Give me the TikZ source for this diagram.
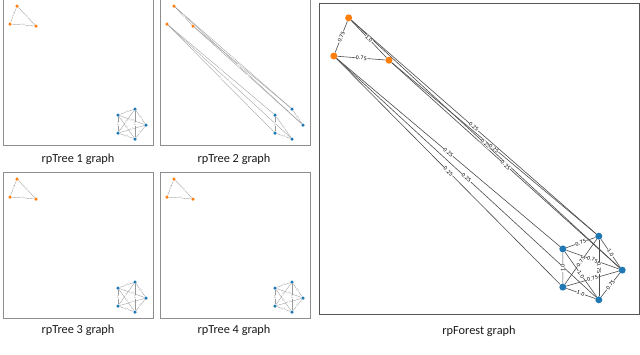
\documentclass[tikz,border=0pt]{standalone}
\usepackage{fontspec}
\setmainfont{Carlito}
\newfontfamily\lblfont{DejaVu Sans}
\usetikzlibrary{positioning}
\definecolor{RFOrange}{HTML}{FF7F0E}
\definecolor{RFBlue}{HTML}{1F77B4}
\definecolor{RFFrame}{HTML}{8E8E8E}
\definecolor{RFDark}{HTML}{555555}
% the eight points of one graph, prefix #1, dot size #2
\newcommand{\RFNodes}[2]{%
 \node[onode,minimum size=#2] (#1o1) at (14,7) {};
 \node[onode,minimum size=#2] (#1o2) at (7,25) {};
 \node[onode,minimum size=#2] (#1o3) at (33,27) {};
 \node[bnode,minimum size=#2] (#1b1) at (115,116) {};
 \node[bnode,minimum size=#2] (#1b2) at (132,110) {};
 \node[bnode,minimum size=#2] (#1b3) at (143,126) {};
 \node[bnode,minimum size=#2] (#1b4) at (132,140) {};
 \node[bnode,minimum size=#2] (#1b5) at (115,134) {};
}
\newcommand{\RFTree}[1]{%
 \foreach \u/\v in {o1/o2,o1/o3,o2/o3,b1/b2,b1/b3,b1/b4,b1/b5,b2/b3,b2/b4,b2/b5,b3/b4,b3/b5,b4/b5}
  \draw[gedge] (#1\u) -- (#1\v);
 \foreach \u/\v in {o1/o2,o1/o3,o2/o3,b1/b2,b1/b3,b1/b4,b1/b5,b2/b3,b2/b4,b2/b5,b3/b4,b3/b5,b4/b5}
  \path (#1\u) -- node[slbl] {1.0} (#1\v);
}
\begin{document}
\begin{tikzpicture}[x=1pt,y=-1pt]
\tikzset{panel/.style={draw=RFFrame,line width=.8pt},bigpanel/.style={draw=RFDark,line width=1pt},captext/.style={anchor=base,inner sep=0pt,font=\fontsize{12.3}{14}\selectfont,text=black!90},onode/.style={circle,fill=RFOrange,inner sep=0pt},bnode/.style={circle,fill=RFBlue,inner sep=0pt},gedge/.style={draw=black!40,line width=.35pt},fedge/.style={draw=black!70,line width=.6pt},slbl/.style={midway,sloped,fill=white,inner sep=.2pt,text=black!60,font=\lblfont\fontsize{2}{2}\selectfont},blbl/.style={midway,sloped,fill=white,inner sep=.3pt,font=\lblfont\fontsize{5}{5}\selectfont}}
\useasboundingbox (0,0) rectangle (640,354);
% rpTree 1
\begin{scope}[shift={(3,-1)}]
\draw[panel] (0,0) rectangle (150,146);
\RFNodes{a}{3.5pt}
\RFTree{a}
\end{scope}
\node[captext] (c1) at (78,162) {rpTree 1 graph};
% rpTree 2
\begin{scope}[shift={(160,-1)}]
\draw[panel] (0,0) rectangle (150,146);
\RFNodes{b}{3.5pt}
\foreach \u/\v in {o1/o3,o1/b2,o1/b3,o3/b2,o3/b3,b2/b3,o2/b1,o2/b4,o2/b5,b1/b4,b1/b5,b4/b5}
 \draw[gedge] (b\u) -- (b\v);
\foreach \u/\v in {o1/o3,o1/b2,o1/b3,o3/b2,o3/b3,b2/b3,o2/b1,o2/b4,o2/b5,b1/b4,b1/b5,b4/b5}
 \path (b\u) -- node[slbl] {1.0} (b\v);
\end{scope}
\node[captext] (c2) at (234,162) {rpTree 2 graph};
% rpTree 3
\begin{scope}[shift={(3,172)}]
\draw[panel] (0,0) rectangle (150,146);
\RFNodes{c}{3.5pt}
\RFTree{c}
\end{scope}
\node[captext] (c3) at (78,333) {rpTree 3 graph};
% rpTree 4
\begin{scope}[shift={(160,172)}]
\draw[panel] (0,0) rectangle (150,146);
\RFNodes{d}{3.5pt}
\RFTree{d}
\end{scope}
\node[captext] (c4) at (234,333) {rpTree 4 graph};
% rpForest
\draw[bigpanel] (319,3) rectangle (639,314);
\begin{scope}[shift={(319,3)},scale=2.12]
\RFNodes{f}{7pt}
\foreach \u/\v/\w in {o1/o2/0.75,o1/o3/1.0,o2/o3/0.75,o1/b2/0.25,o1/b3/0.25,o3/b2/0.25,o3/b3/0.25,o2/b1/0.25,o2/b4/0.25,o2/b5/0.25,b1/b2/0.75,b1/b3/0.75,b1/b4/1.0,b1/b5/1.0,b2/b3/1.0,b2/b4/0.75,b2/b5/0.75,b3/b4/0.75,b3/b5/0.75,b4/b5/1.0}
 \draw[fedge] (f\u) -- (f\v);
\foreach \u/\v/\w in {o1/o2/0.75,o1/o3/1.0,o2/o3/0.75,o1/b2/0.25,o1/b3/0.25,o3/b2/0.25,o3/b3/0.25,o2/b1/0.25,o2/b4/0.25,o2/b5/0.25,b1/b2/0.75,b1/b3/0.75,b1/b4/1.0,b1/b5/1.0,b2/b3/1.0,b2/b4/0.75,b2/b5/0.75,b3/b4/0.75,b3/b5/0.75,b4/b5/1.0}
 \path (f\u) -- node[blbl] {\w} (f\v);
\end{scope}
\node[captext] (c5) at (479,334) {rpForest graph};
\end{tikzpicture}
\end{document}
